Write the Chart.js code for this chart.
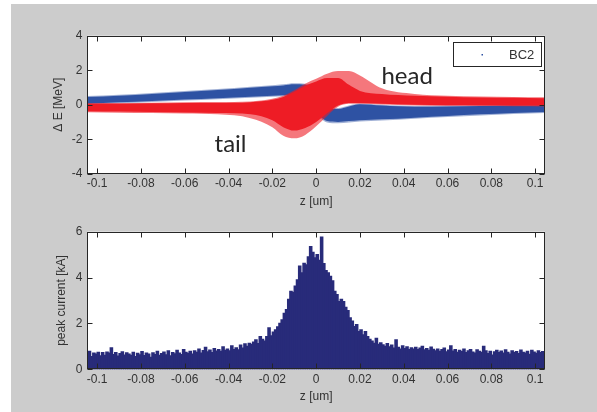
<!DOCTYPE html>
<html>
<head>
<meta charset="utf-8">
<script src="https://cdn.jsdelivr.net/npm/chart.js@4.4.1/dist/chart.umd.min.js"></script>
<style>
  html, body { margin: 0; padding: 0; background: #ffffff; }
  #fig { position: relative; width: 597px; height: 412px; overflow: hidden; background: #ffffff; }
  #panel { position: absolute; left: 11px; top: 4px; right: 0; bottom: 0; background: #cccccc; }
  canvas { position: absolute; left: 0; top: 0; }
</style>
</head>
<body>
<div id="fig">
  <div id="panel"></div>
  <canvas id="phase" width="597" height="412"></canvas>
  <canvas id="current" width="597" height="412"></canvas>
</div>
<script>
// ---- Longitudinal phase space after BC2: envelopes of the two particle clouds ----
const zEnv = [-0.105, -0.09, -0.075, -0.06, -0.045, -0.03, -0.02, -0.015, -0.01, -0.005,
              0, 0.005, 0.01, 0.015, 0.02, 0.03, 0.045, 0.06, 0.075, 0.09, 0.105];

// blue cloud (uncompressed reference beam), ΔE in MeV
const blueUpper = [0.44, 0.52, 0.62, 0.73, 0.85, 0.98, 1.07, 1.12, 1.18, 1.15,
                   0.90, -0.20, -0.25, -0.10, 0.02, -0.05, -0.12, -0.10, -0.08, -0.05, -0.03];
const blueLower = [0.06, 0.14, 0.22, 0.30, 0.38, 0.46, 0.52, 0.55, 0.55, 0.45,
                   -0.40, -0.95, -1.00, -0.95, -0.90, -0.85, -0.75, -0.65, -0.56, -0.48, -0.42];
const blueHaloUpper = [0.50, 0.58, 0.68, 0.79, 0.91, 1.04, 1.13, 1.18, 1.24, 1.21,
                       0.98, -0.14, -0.19, -0.04, 0.07, 0.00, -0.07, -0.05, -0.03, 0.00, 0.02];
const blueHaloLower = [0.00, 0.08, 0.16, 0.24, 0.32, 0.40, 0.46, 0.49, 0.49, 0.38,
                       -0.48, -1.03, -1.08, -1.03, -0.98, -0.92, -0.81, -0.71, -0.62, -0.54, -0.48];

// red cloud (BC2), ΔE in MeV
const redUpper = [0.05, 0.06, 0.08, 0.10, 0.10, 0.14, 0.28, 0.45, 0.75, 1.10,
                  1.35, 1.55, 1.55, 1.15, 0.80, 0.62, 0.52, 0.46, 0.42, 0.40, 0.38];
const redLower = [-0.38, -0.40, -0.42, -0.45, -0.48, -0.55, -0.90, -1.30, -1.50, -1.35,
                  -1.00, -0.50, -0.05, 0.10, 0.10, 0.06, 0.00, -0.02, -0.03, -0.04, -0.05];
const redHaloUpper = [0.09, 0.10, 0.12, 0.14, 0.15, 0.19, 0.34, 0.52, 0.84, 1.22,
                      1.50, 1.80, 1.95, 1.95, 1.70, 0.95, 0.62, 0.52, 0.47, 0.45, 0.43];
const redHaloLower = [-0.44, -0.46, -0.48, -0.51, -0.56, -0.78, -1.30, -1.80, -1.95, -1.75,
                      -1.25, -0.65, -0.12, 0.05, 0.05, 0.01, -0.05, -0.07, -0.08, -0.09, -0.10];

// ---- Peak current histogram, kA per 0.001 um bin ----
const binStart = -0.105;
const binWidth = 0.001;
const peakCurrent = [
  0.62,0.78,0.55,0.70,0.66,0.74,0.58,0.72,0.60,0.75,
  0.70,0.93,0.64,0.72,0.57,0.68,0.76,0.62,0.71,0.66,
  0.60,0.73,0.55,0.69,0.63,0.77,0.59,0.70,0.66,0.52,
  0.71,0.64,0.78,0.60,0.68,0.75,0.63,0.80,0.58,0.72,
  0.67,0.82,0.70,0.64,0.86,0.73,0.69,0.78,0.66,0.80,
  0.74,0.88,0.70,0.81,0.95,0.76,0.83,0.72,0.90,0.79,
  0.85,0.78,0.98,0.82,0.88,0.80,1.02,0.86,0.93,0.84,
  1.05,0.92,1.10,1.00,1.13,1.08,1.18,1.28,1.12,1.42,
  1.30,1.22,1.42,1.80,1.45,1.62,1.72,1.85,2.00,2.15,
  2.44,2.60,3.05,3.40,3.35,3.62,3.90,4.50,4.20,4.62,
  4.55,4.90,5.35,5.10,4.85,5.00,4.75,5.76,4.60,4.30,
  4.20,4.05,3.85,3.40,3.25,2.95,3.05,2.95,2.70,2.55,
  2.24,2.10,1.86,1.95,1.64,1.72,1.50,1.64,1.42,1.30,
  1.22,1.13,1.35,1.08,1.15,1.06,1.00,1.12,0.98,1.05,
  0.92,1.28,0.95,0.88,1.02,0.90,0.97,0.85,0.93,0.88,
  0.95,0.86,0.92,1.00,0.84,0.90,0.82,0.96,0.87,0.80,
  0.88,0.78,0.85,0.92,0.76,0.83,1.02,0.79,0.86,0.74,
  0.82,0.77,0.88,0.72,0.80,0.85,0.75,0.70,0.84,0.78,
  0.73,1.00,0.80,0.68,0.78,0.62,0.76,0.82,0.72,0.79,
  0.70,0.84,0.74,0.66,0.80,0.72,0.77,0.68,0.83,0.74,
  0.70,0.78,0.65,0.82,0.75,0.69,0.80,0.72,0.77,0.74
];
const zBins = peakCurrent.map((_, i) => binStart + binWidth * (i + 0.5));

// ---- axes ----
const zTicks = [-0.1, -0.08, -0.06, -0.04, -0.02, 0, 0.02, 0.04, 0.06, 0.08, 0.1];
const zTickLabels = ['-0.1', '-0.08', '-0.06', '-0.04', '-0.02', '0', '0.02', '0.04', '0.06', '0.08', '0.1'];
const eTicks = [-4, -2, 0, 2, 4];
const iTicks = [0, 2, 4, 6];

// ---- labels ----
const noteText = ['head', 'tail'];
const noteZ = [0.0298, -0.0464];
const noteE = [1.22, -2.72];
const legendLabel = 'BC2';

const BLUE = '#2e52a3';
const RED = '#ee1c25';
const NAVY = '#282b7a';
const INK = '#262626';

Chart.defaults.font.family = "'Liberation Sans', Arial, sans-serif";
Chart.defaults.font.size = 12;
Chart.defaults.color = '#333333';

const pts = arr => zEnv.map((z, i) => ({ x: z, y: arr[i] }));

// white axes background, inward ticks on all four sides and the box
const axesBox = {
  id: 'axesBox',
  beforeDraw(chart) {
    const { ctx, chartArea: a } = chart;
    ctx.save();
    ctx.fillStyle = '#ffffff';
    ctx.fillRect(a.left, a.top, a.right - a.left, a.bottom - a.top);
    ctx.restore();
  },
  afterDatasetsDraw(chart) {
    const { ctx, chartArea: a, scales: { x, y } } = chart;
    const len = 5;
    const L = Math.round(a.left) + 0.5, R = Math.round(a.right) - 0.5;
    const T = Math.round(a.top) + 0.5, B = Math.round(a.bottom) - 0.5;
    ctx.save();
    ctx.strokeStyle = INK;
    ctx.lineWidth = 1;
    ctx.beginPath();
    x.ticks.forEach(t => {
      const px = Math.round(x.getPixelForValue(t.value)) + 0.5;
      ctx.moveTo(px, B); ctx.lineTo(px, B - len);
      ctx.moveTo(px, T); ctx.lineTo(px, T + len);
    });
    y.ticks.forEach(t => {
      const py = Math.round(y.getPixelForValue(t.value)) + 0.5;
      ctx.moveTo(L, py); ctx.lineTo(L + len, py);
      ctx.moveTo(R, py); ctx.lineTo(R - len, py);
    });
    ctx.stroke();
    ctx.strokeRect(L, T, R - L, B - T);
    ctx.restore();
  }
};

// text annotations and the legend box of the phase-space plot
const phaseNotes = {
  id: 'phaseNotes',
  afterDatasetsDraw(chart) {
    const { ctx, chartArea: a, scales: { x, y } } = chart;
    ctx.save();
    ctx.fillStyle = INK;
    ctx.font = "24px Lato, 'Open Sans', sans-serif";
    ctx.textBaseline = 'alphabetic';
    ctx.textAlign = 'left';
    noteText.forEach((t, i) => ctx.fillText(t, x.getPixelForValue(noteZ[i]), y.getPixelForValue(noteE[i])));

    const bw = 88, bh = 24;
    const bx = Math.round(a.right - 4.5 - bw) + 0.5, by = Math.round(a.top + 6.5) + 0.5;
    ctx.fillStyle = '#ffffff';
    ctx.fillRect(bx, by, bw, bh);
    ctx.strokeStyle = INK;
    ctx.lineWidth = 1;
    ctx.strokeRect(bx, by, bw, bh);
    ctx.fillStyle = BLUE;
    ctx.fillRect(bx + 28, by + 11.5, 1.5, 1.5);
    ctx.fillStyle = '#333333';
    ctx.font = "13px 'Liberation Sans', Arial, sans-serif";
    ctx.textBaseline = 'middle';
    ctx.fillText(legendLabel, bx + 55.5, by + bh / 2 + 0.5);
    ctx.restore();
  }
};

function zAxis() {
  return {
    type: 'linear',
    min: -0.1045,
    max: 0.1045,
    offset: false,
    grid: { display: false, drawTicks: false },
    border: { display: false },
    afterBuildTicks: s => { s.ticks = zTicks.map(v => ({ value: v })); },
    afterFit: s => { s.height = 36; },
    ticks: {
      autoSkip: false,
      maxRotation: 0,
      padding: 3,
      color: '#333333',
      callback: v => zTickLabels[zTicks.indexOf(v)] ?? ''
    },
    title: {
      display: true,
      text: 'z [um]',
      color: '#333333',
      font: { size: 12 },
      padding: { top: 0, bottom: 1.3 }
    }
  };
}

function valueAxis(min, max, values, titleText, titlePad) {
  return {
    type: 'linear',
    min, max,
    grid: { display: false, drawTicks: false },
    border: { display: false },
    afterBuildTicks: s => { s.ticks = values.map(v => ({ value: v })); },
    afterFit: s => { s.width = 87.3; },
    ticks: { padding: 5, color: '#333333', callback: v => String(v) },
    title: {
      display: true,
      text: titleText,
      color: '#333333',
      font: { size: 12 },
      padding: { top: titlePad, bottom: 0 }
    }
  };
}

function band(data, color, fill, order) {
  return {
    data, order,
    borderWidth: 0,
    borderColor: 'rgba(0,0,0,0)',
    backgroundColor: color,
    pointRadius: 0,
    cubicInterpolationMode: 'monotone',
    fill
  };
}

new Chart(document.getElementById('phase'), {
  type: 'line',
  data: {
    datasets: [
      band(pts(blueHaloLower), 'rgba(46,82,163,0.45)', false, 4),
      band(pts(blueHaloUpper), 'rgba(46,82,163,0.45)', '-1', 4),
      band(pts(blueLower), BLUE, false, 3),
      band(pts(blueUpper), BLUE, '-1', 3),
      band(pts(redHaloLower), 'rgba(238,28,37,0.6)', false, 2),
      band(pts(redHaloUpper), 'rgba(238,28,37,0.6)', '-1', 2),
      band(pts(redLower), RED, false, 1),
      band(pts(redUpper), RED, '-1', 1)
    ]
  },
  options: {
    responsive: false,
    animation: false,
    devicePixelRatio: 1,
    layout: { padding: { left: 0, right: 52, top: 35.7, bottom: 202.3 } },
    plugins: { legend: { display: false }, tooltip: { enabled: false } },
    scales: {
      x: zAxis(),
      y: valueAxis(-4, 4, eTicks, 'Δ E [MeV]', 51.3)
    }
  },
  plugins: [axesBox, phaseNotes]
});

new Chart(document.getElementById('current'), {
  type: 'bar',
  data: {
    datasets: [{
      data: zBins.map((z, i) => ({ x: z, y: peakCurrent[i] })),
      backgroundColor: NAVY,
      borderWidth: 0,
      inflateAmount: 0.7,
      barPercentage: 1,
      categoryPercentage: 1,
      clip: 0
    }]
  },
  options: {
    responsive: false,
    animation: false,
    devicePixelRatio: 1,
    layout: { padding: { left: 0, right: 52, top: 231.7, bottom: 6.7 } },
    plugins: { legend: { display: false }, tooltip: { enabled: false } },
    scales: {
      x: zAxis(),
      y: valueAxis(0, 6, iTicks, 'peak current [kA]', 54.8)
    }
  },
  plugins: [axesBox]
});
</script>
</body>
</html>
